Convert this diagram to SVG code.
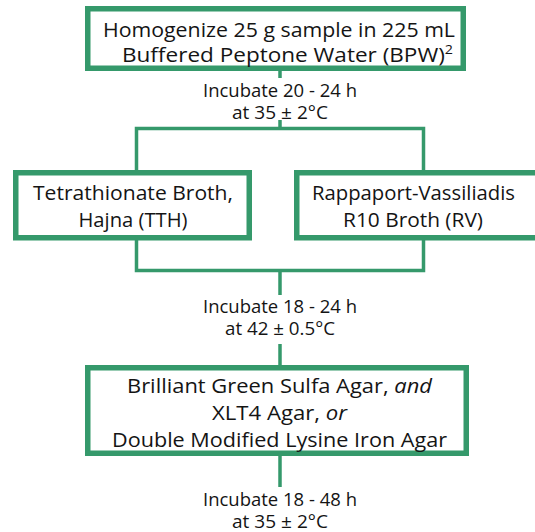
<svg xmlns="http://www.w3.org/2000/svg" width="535" height="532" viewBox="0 0 535 532">
<style>
.box{fill:#fff;stroke:#35996b;stroke-width:5.5}
.con{fill:none;stroke:#35996b;stroke-width:3.5;stroke-linejoin:miter;stroke-linecap:butt}
text{font-family:"Open Sans","Noto Sans","Liberation Sans",sans-serif;fill:#141414;text-anchor:middle}
.bt{font-size:20.5px}
.lt{font-size:17.5px}
</style>
<rect width="535" height="532" fill="#fff"/>
<g id="connectors">
<line class="con" x1="280" y1="70" x2="280" y2="78"/>
<line class="con" x1="280" y1="120" x2="280" y2="129"/>
<polyline class="con" points="136.5,171 136.5,128.5 423.5,128.5 423.5,171"/>
<polyline class="con" points="136.5,240 136.5,270.5 423.5,270.5 423.5,240"/>
<line class="con" x1="280" y1="270.5" x2="280" y2="295"/>
<line class="con" x1="280" y1="344" x2="280" y2="366"/>
<line class="con" x1="280" y1="455" x2="280" y2="487"/>
</g>
<g id="n1">
<rect class="box" x="87.75" y="8.75" width="375.5" height="59.5"/>
<text class="bt" x="279" y="36.5" font-size="20" textLength="352" lengthAdjust="spacingAndGlyphs">Homogenize 25 g sample in 225 mL</text>
<text class="bt" x="287.5" y="62" font-size="20" textLength="331" lengthAdjust="spacingAndGlyphs">Buffered Peptone Water (BPW)<tspan font-size="13" dy="-8">2</tspan></text>
</g>
<g id="l1">
<text class="lt" x="280" y="97" textLength="154" lengthAdjust="spacingAndGlyphs">Incubate 20 - 24 h</text>
<text class="lt" x="280" y="119" textLength="96" lengthAdjust="spacingAndGlyphs">at 35 ± 2°C</text>
</g>
<g id="n2">
<rect class="box" x="15.75" y="172.75" width="233.5" height="65"/>
<text class="bt" x="133" y="200" textLength="200" lengthAdjust="spacingAndGlyphs">Tetrathionate Broth,</text>
<text class="bt" x="133" y="227" textLength="109" lengthAdjust="spacingAndGlyphs">Hajna (TTH)</text>
</g>
<g id="n3">
<rect class="box" x="296.75" y="172.75" width="260" height="65"/>
<text class="bt" x="413.5" y="200" textLength="203" lengthAdjust="spacingAndGlyphs">Rappaport-Vassiliadis</text>
<text class="bt" x="413" y="227" textLength="140" lengthAdjust="spacingAndGlyphs">R10 Broth (RV)</text>
</g>
<g id="l2">
<text class="lt" x="280" y="313" textLength="154" lengthAdjust="spacingAndGlyphs">Incubate 18 - 24 h</text>
<text class="lt" x="280" y="335" textLength="110" lengthAdjust="spacingAndGlyphs">at 42 ± 0.5°C</text>
</g>
<g id="n4">
<rect class="box" x="87.75" y="367.75" width="378.5" height="85.5"/>
<text class="bt" x="279.5" y="393" textLength="305" lengthAdjust="spacingAndGlyphs">Brilliant Green Sulfa Agar, <tspan font-style="italic">and</tspan></text>
<text class="bt" x="279.5" y="420" textLength="135" lengthAdjust="spacingAndGlyphs">XLT4 Agar, <tspan font-style="italic">or</tspan></text>
<text class="bt" x="279.5" y="447" textLength="335" lengthAdjust="spacingAndGlyphs">Double Modified Lysine Iron Agar</text>
</g>
<g id="l3">
<text class="lt" x="280" y="506" textLength="154" lengthAdjust="spacingAndGlyphs">Incubate 18 - 48 h</text>
<text class="lt" x="280" y="528" textLength="96" lengthAdjust="spacingAndGlyphs">at 35 ± 2°C</text>
</g>
</svg>
